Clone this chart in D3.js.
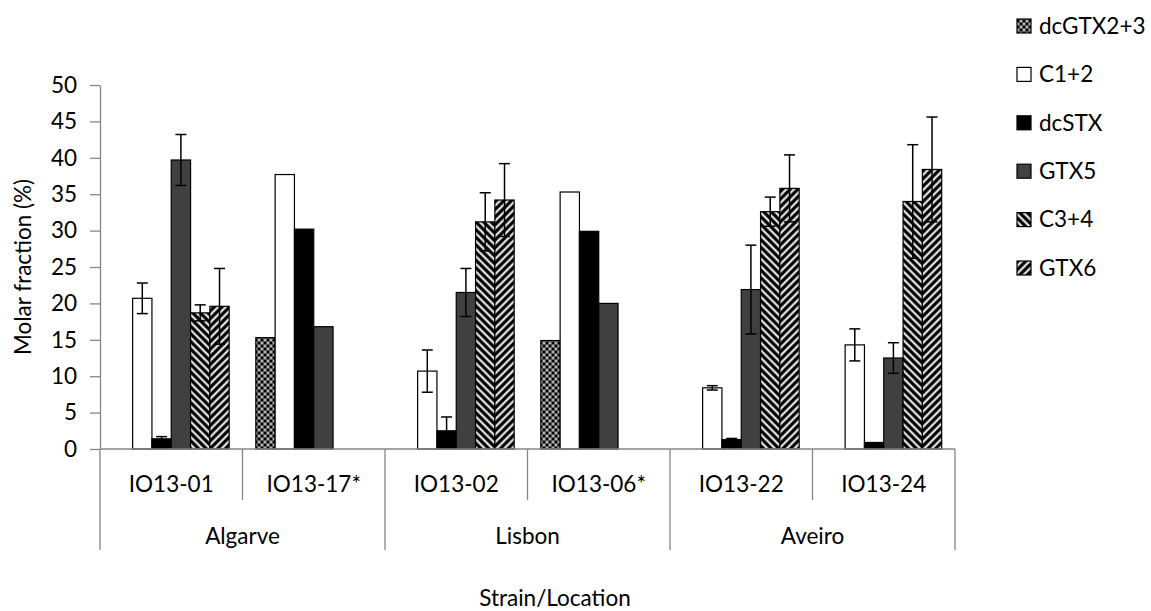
<!DOCTYPE html>
<html>
<head>
<meta charset="utf-8">
<script src="https://cdn.jsdelivr.net/npm/d3@7"></script>
<style>
  body { margin: 0; background: #fff; }
  text { font-family: Lato, "Open Sans", sans-serif; fill: #000; }
</style>
</head>
<body>
<div id="container"></div>
<script>
const width = 1151;
const height = 611;

// data
const strains = ["IO13-01", "IO13-17*", "IO13-02", "IO13-06*", "IO13-22", "IO13-24"];
const strainLocation = ["Algarve", "Algarve", "Lisbon", "Lisbon", "Aveiro", "Aveiro"];
const locations = ["Algarve", "Lisbon", "Aveiro"];
const toxins = ["dcGTX2+3", "C1+2", "dcSTX", "GTX5", "C3+4", "GTX6"];

const dcGTX23 = [0, 15.3, 0, 14.9, 0, 0];
const c12 = [20.7, 37.7, 10.7, 35.3, 8.4, 14.3];
const dcSTX = [1.4, 30.2, 2.5, 29.9, 1.3, 0.9];
const gtx5 = [39.7, 16.8, 21.5, 20.0, 21.9, 12.5];
const c34 = [18.7, 0, 31.2, 0, 32.6, 34.0];
const gtx6 = [19.6, 0, 34.2, 0, 35.8, 38.4];

// standard deviations (0 = no error bar)
const dcGTX23Err = [0, 0, 0, 0, 0, 0];
const c12Err = [2.1, 0, 2.9, 0, 0.3, 2.2];
const dcSTXErr = [0.3, 0, 1.9, 0, 0.15, 0];
const gtx5Err = [3.5, 0, 3.3, 0, 6.1, 2.1];
const c34Err = [1.1, 0, 4.0, 0, 2.0, 7.8];
const gtx6Err = [5.2, 0, 5.0, 0, 4.6, 7.2];

const yTicks = [0, 5, 10, 15, 20, 25, 30, 35, 40, 45, 50];

const values = [dcGTX23, c12, dcSTX, gtx5, c34, gtx6];
const errors = [dcGTX23Err, c12Err, dcSTXErr, gtx5Err, c34Err, gtx6Err];

const plotLeft = 100, plotRight = 955, plotTop = 85, plotBottom = 449;
const axisColor = "#868686";
const fontSize = 22.5;

const svg = d3.select("#container").append("svg").attr("width", width).attr("height", height);

// fill patterns
const defs = svg.append("defs");
const fills = ["url(#p-dots)", "#ffffff", "#000000", "#404040", "url(#p-down)", "url(#p-up)"];

let dots = defs.append("pattern").attr("id", "p-dots").attr("patternUnits", "userSpaceOnUse")
  .attr("width", 6).attr("height", 6);
dots.append("rect").attr("width", 6).attr("height", 6).attr("fill", "#5a5a5a");
dots.append("rect").attr("x", 0).attr("y", 0).attr("width", 2).attr("height", 2).attr("fill", "#000");
dots.append("rect").attr("x", 3).attr("y", 3).attr("width", 2).attr("height", 2).attr("fill", "#000");
dots.append("rect").attr("x", 3.2).attr("y", 0.2).attr("width", 1.6).attr("height", 1.6).attr("fill", "#e8e8e8");
dots.append("rect").attr("x", 0.2).attr("y", 3.2).attr("width", 1.6).attr("height", 1.6).attr("fill", "#e8e8e8");

function stripes(id, angle) {
  let p = defs.append("pattern").attr("id", id).attr("patternUnits", "userSpaceOnUse")
    .attr("width", 5.4).attr("height", 5.4).attr("patternTransform", `rotate(${angle})`);
  p.append("rect").attr("width", 5.4).attr("height", 5.4).attr("fill", "#fff");
  p.append("rect").attr("x", 0).attr("width", 2.9).attr("height", 5.4).attr("fill", "#000");
  p.append("rect").attr("x", 2.9).attr("width", 0.6).attr("height", 5.4).attr("fill", "#777");
  p.append("rect").attr("x", 4.8).attr("width", 0.6).attr("height", 5.4).attr("fill", "#777");
}
stripes("p-down", -45);
stripes("p-up", 45);

// scales
const x0 = d3.scaleBand().domain(strains).range([plotLeft, plotRight]).paddingInner(0).paddingOuter(0);
const x1 = d3.scaleBand().domain(toxins).range([0, x0.bandwidth()]).paddingInner(0).paddingOuter(0.69);
const y = d3.scaleLinear().domain([0, 50]).range([plotBottom, plotTop]);

// y axis
const yAxisGroup = svg.append("g").attr("transform", `translate(${plotLeft},0)`)
  .call(d3.axisLeft(y).tickValues(yTicks).tickSize(10).tickSizeOuter(0).tickPadding(13));
yAxisGroup.select(".domain").attr("stroke", axisColor).attr("stroke-width", 1.3);
yAxisGroup.selectAll(".tick line").attr("stroke", axisColor).attr("stroke-width", 1.3);
yAxisGroup.selectAll(".tick text").attr("font-size", fontSize).attr("font-family", "Lato, sans-serif").attr("fill", "#000");

svg.append("text")
  .attr("transform", `translate(23, ${(plotTop + plotBottom) / 2}) rotate(-90)`)
  .attr("text-anchor", "middle").attr("dy", "0.35em")
  .attr("font-size", fontSize)
  .text("Molar fraction (%)");

// bars
const rows = [];
strains.forEach((s, i) => {
  toxins.forEach((t, j) => {
    rows.push({strain: s, toxin: t, idx: j, value: values[j][i], err: errors[j][i]});
  });
});

svg.append("g").selectAll("rect").data(rows.filter(d => d.value > 0)).enter().append("rect")
  .attr("x", d => x0(d.strain) + x1(d.toxin))
  .attr("y", d => y(d.value))
  .attr("width", x1.bandwidth())
  .attr("height", d => y(0) - y(d.value))
  .attr("fill", d => fills[d.idx])
  .attr("stroke", "#000")
  .attr("stroke-width", 1.2);

// error bars
const errG = svg.append("g").attr("stroke", "#000").attr("stroke-width", 1.5);
const withErr = rows.filter(d => d.err > 0);
const capHalf = 5.5;
withErr.forEach(d => {
  let cx = x0(d.strain) + x1(d.toxin) + x1.bandwidth() / 2;
  errG.append("line").attr("x1", cx).attr("x2", cx).attr("y1", y(d.value + d.err)).attr("y2", y(d.value - d.err));
  errG.append("line").attr("x1", cx - capHalf).attr("x2", cx + capHalf).attr("y1", y(d.value + d.err)).attr("y2", y(d.value + d.err));
  errG.append("line").attr("x1", cx - capHalf).attr("x2", cx + capHalf).attr("y1", y(d.value - d.err)).attr("y2", y(d.value - d.err));
});

// category axis (two levels)
const xAxisG = svg.append("g").attr("stroke", axisColor).attr("stroke-width", 1.3);
xAxisG.append("line").attr("x1", plotLeft).attr("x2", plotRight).attr("y1", y(0)).attr("y2", y(0));
strains.forEach((s, i) => {
  let newLoc = i === 0 || strainLocation[i] !== strainLocation[i - 1];
  xAxisG.append("line").attr("x1", x0(s)).attr("x2", x0(s))
    .attr("y1", y(0)).attr("y2", newLoc ? 550 : 500);
});
xAxisG.append("line").attr("x1", plotRight).attr("x2", plotRight).attr("y1", y(0)).attr("y2", 550);

svg.append("g").selectAll("text").data(strains).enter().append("text")
  .attr("x", d => x0(d) + x0.bandwidth() / 2)
  .attr("y", 484).attr("dy", "0.35em")
  .attr("text-anchor", "middle").attr("font-size", fontSize)
  .text(d => d);

svg.append("g").selectAll("text").data(locations).enter().append("text")
  .attr("x", loc => {
    let members = strains.filter((s, i) => strainLocation[i] === loc);
    return (x0(members[0]) + x0(members[members.length - 1]) + x0.bandwidth()) / 2;
  })
  .attr("y", 536).attr("dy", "0.35em")
  .attr("text-anchor", "middle").attr("font-size", fontSize)
  .text(d => d);

svg.append("text")
  .attr("x", 555).attr("y", 598).attr("dy", "0.35em")
  .attr("text-anchor", "middle").attr("font-size", fontSize)
  .text("Strain/Location");

// legend
const legend = svg.append("g").selectAll("g").data(toxins).enter().append("g")
  .attr("transform", (d, i) => `translate(1017, ${26 + i * 48.4})`);
legend.append("rect")
  .attr("x", 0).attr("y", -7).attr("width", 14).attr("height", 14)
  .attr("fill", (d, i) => fills[i]).attr("stroke", "#000").attr("stroke-width", 1.2);
legend.append("text")
  .attr("x", 22).attr("dy", "0.35em").attr("font-size", fontSize)
  .text(d => d);
</script>
</body>
</html>
